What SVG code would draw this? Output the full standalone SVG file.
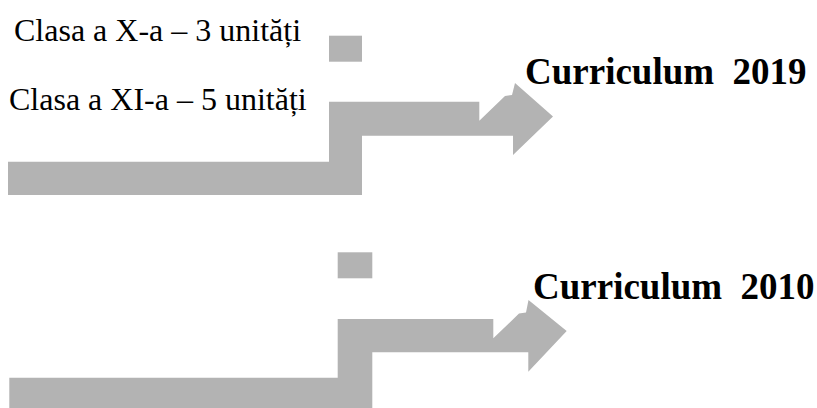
<svg xmlns="http://www.w3.org/2000/svg" width="817" height="408" viewBox="0 0 817 408">
<style>
.shape{fill:#b3b3b3;stroke:none}
.lbl{font-family:"Liberation Serif","Times New Roman",Tinos,"DejaVu Serif",serif;font-size:32px;font-weight:normal;font-style:normal;fill:#000}
.ttl{font-family:"Liberation Serif","Times New Roman",Tinos,"DejaVu Serif",serif;font-size:37px;font-weight:bold;fill:#000;white-space:pre}
</style>
<rect width="817" height="408" fill="#fff"/>
<g id="connectors">
<g id="arrow-2019">
<rect class="shape" x="329" y="35.7" width="33" height="26"/>
<polygon class="shape" points="8,161.7 329,161.7 329,101.7 479.3,101.7 479.3,120.7 505,96 512,95 515,83 553,116.5 513,155 513,135.7 362,135.7 362,195 8,195"/>
</g>
<g id="arrow-2010">
<rect class="shape" x="337.7" y="252.3" width="34.6" height="26"/>
<polygon class="shape" points="9.3,377.8 337.7,377.8 337.7,319 493.3,319 493.3,338.3 519,313.6 526,312.6 528.5,300 566.7,331 528.3,371.7 528.3,352.3 372.3,352.3 372.3,412 9.3,412"/>
</g>
</g>
<g id="node-x">
<text class="lbl" x="14" y="40.5">Clasa a X-a – 3 unități</text>
</g>
<g id="node-xi">
<text class="lbl" x="9" y="110">Clasa a XI-a – 5 unități</text>
</g>
<g id="node-2019">
<text class="ttl" x="525" y="83.5" xml:space="preserve">Curriculum  2019</text>
</g>
<g id="node-2010">
<text class="ttl" x="533" y="298.5" xml:space="preserve">Curriculum  2010</text>
</g>
</svg>
